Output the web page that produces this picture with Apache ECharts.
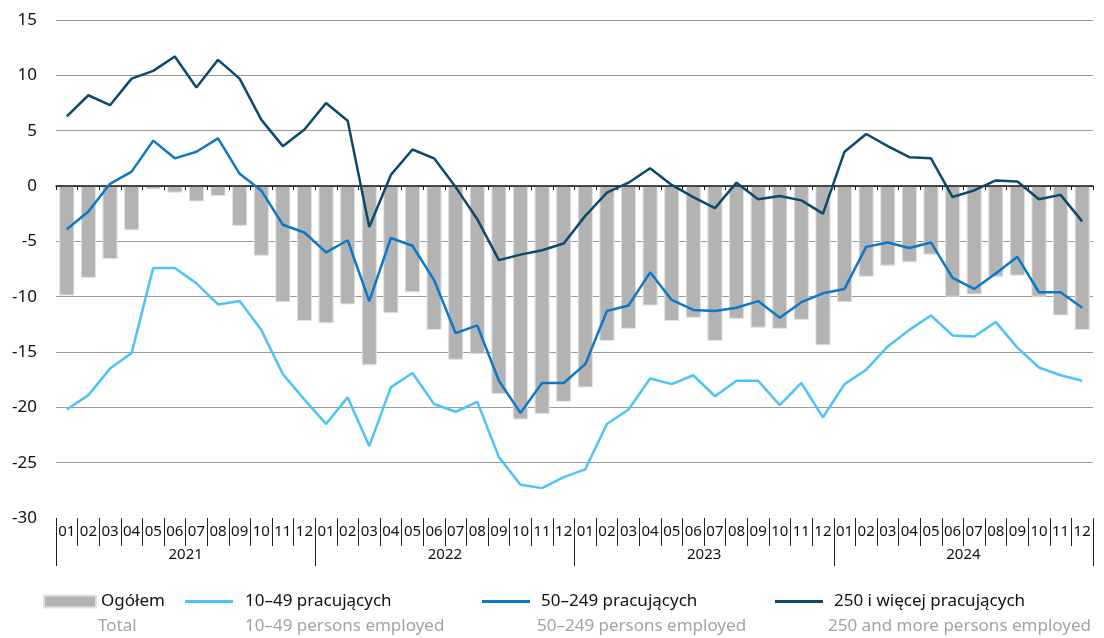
<!DOCTYPE html>
<html>
<head>
<meta charset="utf-8">
<script src="https://cdn.jsdelivr.net/npm/echarts@6/dist/echarts.min.js"></script>
<style>
  html, body { margin: 0; padding: 0; background: #fff; }
  #chart { width: 1104px; height: 638px; }
</style>
</head>
<body>
<div id="chart"></div>
<script>
const months = ['01','02','03','04','05','06','07','08','09','10','11','12',
                '01','02','03','04','05','06','07','08','09','10','11','12',
                '01','02','03','04','05','06','07','08','09','10','11','12',
                '01','02','03','04','05','06','07','08','09','10','11','12'];
const years = ['2021','2022','2023','2024'];

const ogolem = [-9.9,-8.3,-6.6,-4.0,-0.3,-0.6,-1.4,-0.9,-3.6,-6.3,-10.5,-12.2,
                -12.4,-10.7,-16.2,-11.5,-9.6,-13.0,-15.7,-15.2,-18.8,-21.1,-20.6,-19.5,
                -18.2,-14.0,-12.9,-10.8,-12.2,-11.9,-14.0,-12.0,-12.8,-12.9,-12.1,-14.4,
                -10.5,-8.2,-7.2,-6.9,-6.2,-10.0,-9.8,-8.2,-8.1,-10.0,-11.7,-13.0];

const small = [-20.2,-18.9,-16.5,-15.1,-7.4,-7.4,-8.8,-10.7,-10.4,-13.0,-17.0,-19.3,
               -21.5,-19.1,-23.5,-18.2,-16.9,-19.7,-20.4,-19.5,-24.5,-27.0,-27.3,-26.3,
               -25.6,-21.5,-20.2,-17.4,-17.9,-17.1,-19.0,-17.6,-17.6,-19.8,-17.8,-20.9,
               -17.9,-16.6,-14.5,-13.0,-11.7,-13.5,-13.6,-12.3,-14.6,-16.4,-17.1,-17.6];

const medium = [-3.9,-2.3,0.2,1.3,4.1,2.5,3.1,4.3,1.1,-0.4,-3.5,-4.2,
                -6.0,-4.9,-10.4,-4.7,-5.4,-8.5,-13.3,-12.6,-17.6,-20.5,-17.8,-17.8,
                -16.1,-11.3,-10.8,-7.8,-10.3,-11.2,-11.3,-11.0,-10.4,-11.9,-10.5,-9.7,
                -9.3,-5.5,-5.1,-5.6,-5.1,-8.3,-9.3,-7.9,-6.4,-9.6,-9.6,-11.0];

const large = [6.3,8.2,7.3,9.7,10.4,11.7,8.9,11.4,9.7,6.0,3.6,5.1,
               7.5,5.9,-3.7,1.0,3.3,2.5,-0.1,-3.0,-6.7,-6.2,-5.8,-5.2,
               -2.7,-0.6,0.3,1.6,0.1,-1.0,-2.0,0.3,-1.2,-0.9,-1.3,-2.5,
               3.1,4.7,3.6,2.6,2.5,-1.0,-0.4,0.5,0.4,-1.2,-0.8,-3.2];

const seriesNames = ['Ogółem','10–49 pracujących','50–249 pracujących','250 i więcej pracujących'];
const seriesNamesEn = ['Total','10–49 persons employed','50–249 persons employed','250 and more persons employed'];
const yTicks = { min: -30, max: 15, interval: 5 };

const FONT = 'Noto Sans';
const colors = { bar: '#b3b3b3', small: '#4fc3f7', medium: '#0c78c6', large: '#0b4a6b' };

const chart = echarts.init(document.getElementById('chart'));

const legendLefts = [38, 180, 477, 770];
const legendIcon = [
  { icon: 'rect', itemWidth: 52, itemHeight: 12, pad: 0 },
  { icon: 'rect', itemWidth: 48, itemHeight: 3, pad: 7 },
  { icon: 'rect', itemWidth: 48, itemHeight: 3, pad: 6 },
  { icon: 'rect', itemWidth: 48, itemHeight: 3, pad: 6 }
];

const option = {
  animation: false,
  textStyle: { fontFamily: FONT },
  grid: { left: 56, right: 11, top: 20, bottom: 120, containLabel: false },
  legend: seriesNames.map((n, i) => ({
    data: [n],
    left: legendLefts[i],
    top: 588,
    icon: legendIcon[i].icon,
    itemWidth: legendIcon[i].itemWidth,
    itemHeight: legendIcon[i].itemHeight,
    selectedMode: false,
    textStyle: { fontFamily: FONT, fontSize: 17, color: '#111', padding: [0, 0, 0, legendIcon[i].pad] }
  })),
  graphic: seriesNamesEn.map((t, i) => ({
    type: 'text',
    left: [98, 245, 537, 828][i],
    top: 618,
    style: { text: t, fontFamily: FONT, fontSize: 17, fill: '#a3a3a3' }
  })),
  xAxis: [
    {
      type: 'category',
      data: months,
      position: 'bottom',
      boundaryGap: true,
      axisLine: { show: false, onZero: false },
      axisTick: { show: true, interval: 0, length: 28, lineStyle: { color: '#222', width: 1 } },
      axisLabel: { interval: 0, fontSize: 15, color: '#111', margin: 6, fontFamily: FONT },
      splitLine: { show: false }
    },
    {
      type: 'category',
      data: years,
      position: 'bottom',
      boundaryGap: true,
      axisLine: { show: false, onZero: false },
      axisTick: { show: true, interval: 0, length: 48, lineStyle: { color: '#222', width: 1 } },
      axisLabel: { interval: 0, fontSize: 15, color: '#111', margin: 29, fontFamily: FONT },
      splitLine: { show: false }
    },
    {
      type: 'category',
      data: months,
      position: 'bottom',
      boundaryGap: true,
      axisLine: { show: true, onZero: true, lineStyle: { color: '#111', width: 1.5 } },
      axisTick: { show: true, interval: 0, length: 4, lineStyle: { color: '#111', width: 1 } },
      axisLabel: { show: false },
      splitLine: { show: false },
      z: 5
    }
  ],
  yAxis: {
    type: 'value',
    min: yTicks.min,
    max: yTicks.max,
    interval: yTicks.interval,
    axisLine: { show: false },
    axisTick: { show: false },
    axisLabel: { fontSize: 17, color: '#111', margin: 19, fontFamily: FONT },
    splitLine: {
      show: true,
      lineStyle: {
        color: ['rgba(0,0,0,0)', '#9a9a9a', '#9a9a9a', '#9a9a9a', '#9a9a9a',
                '#9a9a9a', '#9a9a9a', '#9a9a9a', '#9a9a9a', '#9a9a9a'],
        width: 1.2
      }
    }
  },
  series: [
    {
      name: seriesNames[0],
      type: 'bar',
      data: ogolem,
      xAxisIndex: 0,
      barCategoryGap: '30%',
      itemStyle: { color: colors.bar, borderColor: '#e2e2e2', borderWidth: 1 },
      z: 2
    },
    {
      name: seriesNames[1],
      type: 'line',
      data: small,
      xAxisIndex: 0,
      symbol: 'none',
      lineStyle: { color: colors.small, width: 2.5 },
      itemStyle: { color: colors.small },
      z: 6
    },
    {
      name: seriesNames[2],
      type: 'line',
      data: medium,
      xAxisIndex: 0,
      symbol: 'none',
      lineStyle: { color: colors.medium, width: 2.5 },
      itemStyle: { color: colors.medium },
      z: 7
    },
    {
      name: seriesNames[3],
      type: 'line',
      data: large,
      xAxisIndex: 0,
      symbol: 'none',
      lineStyle: { color: colors.large, width: 2.5 },
      itemStyle: { color: colors.large },
      z: 8
    }
  ]
};
chart.setOption(option);
</script>
</body>
</html>
